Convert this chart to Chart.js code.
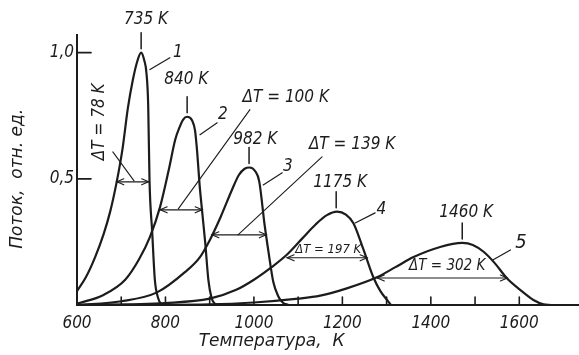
<!DOCTYPE html>
<html lang="ru">
<head>
<meta charset="utf-8">
<title>Поток — температура</title>
<script src="https://cdn.jsdelivr.net/npm/chart.js@4.4.1/dist/chart.umd.min.js"></script>
<style>
  html, body { margin: 0; padding: 0; background: #fff; }
  #wrap { width: 579px; height: 355px; }
</style>
</head>
<body>
<div id="wrap"><canvas id="chart" width="579" height="355"></canvas></div>
<script>
// Temperature (K) and relative flux, one pair per curve
const tempsCurve1 = [600, 620, 641, 660, 675, 690, 703, 715, 726, 737, 745, 752, 757, 761, 764, 770, 776, 783, 790, 800];
const fluxCurve1  = [0.055, 0.11, 0.19, 0.28, 0.37, 0.49, 0.62, 0.78, 0.89, 0.97, 1.00, 0.97, 0.92, 0.79, 0.49, 0.29, 0.10, 0.03, 0.005, 0];

const tempsCurve2 = [600, 660, 709, 740, 765, 788, 808, 822, 832, 840, 849, 860, 867, 872, 877, 883, 890, 897, 904, 910, 918];
const fluxCurve2  = [0.005, 0.04, 0.10, 0.18, 0.27, 0.39, 0.54, 0.655, 0.705, 0.735, 0.746, 0.732, 0.69, 0.60, 0.48, 0.37, 0.245, 0.10, 0.03, 0.008, 0];

const tempsCurve3 = [600, 700, 781, 844, 878, 901, 925, 950, 966, 979, 990, 1003, 1012, 1024, 1033, 1044, 1055, 1065, 1078];
const fluxCurve3  = [0, 0.015, 0.05, 0.13, 0.19, 0.26, 0.35, 0.455, 0.515, 0.54, 0.545, 0.53, 0.49, 0.32, 0.21, 0.09, 0.035, 0.01, 0];

const tempsCurve4 = [600, 800, 900, 960, 1000, 1040, 1075, 1110, 1140, 1165, 1188, 1208, 1225, 1248, 1270, 1286, 1301, 1310];
const fluxCurve4  = [0, 0.008, 0.025, 0.06, 0.10, 0.15, 0.20, 0.265, 0.32, 0.356, 0.37, 0.358, 0.324, 0.218, 0.11, 0.055, 0.02, 0];

const tempsCurve5 = [600, 900, 1000, 1100, 1150, 1210, 1278, 1320, 1361, 1421, 1471, 1495, 1520, 1545, 1572, 1602, 1632, 1655, 1680, 1735];
const fluxCurve5  = [0, 0.003, 0.01, 0.025, 0.037, 0.066, 0.11, 0.15, 0.19, 0.23, 0.246, 0.238, 0.21, 0.165, 0.106, 0.06, 0.02, 0.003, 0, 0];

// axis ticks
const xTickLabels = [600, 800, 1000, 1200, 1400, 1600];
const xTickMarks  = [700, 800, 900, 1000, 1100, 1200, 1300, 1400, 1500, 1600];
const yTickLabels = [0.5, 1.0];

// peak maxima: printed label, temperature and flux at the drawn top
const peakLabels = ['735 K', '840 K', '982 K', '1175 K', '1460 K'];
const peakTemps  = [745, 849, 989, 1186, 1471];
const peakFlux   = [1.0, 0.746, 0.545, 0.37, 0.246];

// half-width arrows: ΔT text, start / end temperature, flux level
const widthLabels = ['ΔT = 78 K', 'ΔT = 100 K', 'ΔT = 139 K', 'ΔT = 197 K', 'ΔT = 302 K'];
const widthFrom   = [690, 788, 905, 1075, 1279];
const widthTo     = [762, 883, 1028, 1256, 1573];
const widthLevel  = [0.488, 0.377, 0.278, 0.187, 0.107];

const curveNames = ['1', '2', '3', '4', '5'];

const INK = '#1c1c1c';
const NARROW = '"DejaVu Sans Condensed", "Liberation Sans Narrow", "DejaVu Sans", sans-serif';
const WIDE = '"DejaVu Sans", sans-serif';

function pts(ts, fs) {
  return ts.map((t, i) => ({ x: t, y: fs[i] }));
}

const curves = [
  pts(tempsCurve1, fluxCurve1),
  pts(tempsCurve2, fluxCurve2),
  pts(tempsCurve3, fluxCurve3),
  pts(tempsCurve4, fluxCurve4),
  pts(tempsCurve5, fluxCurve5)
];

// Text placement in data units (T, flux) so it follows the scales
const peakTextAt   = [[756, 1.13], [847, 0.893], [1003, 0.655], [1195, 0.484], [1480, 0.365]];
const nameAt       = [[828, 1.0], [930, 0.754], [1077, 0.548], [1288, 0.377], [1604, 0.246]];
const nameLeader   = [[765, 0.933, 810, 0.98], [878, 0.675, 917, 0.722], [1021, 0.476, 1064, 0.524],
                      [1229, 0.325, 1274, 0.365], [1541, 0.179, 1580, 0.218]];
const widthTextAt  = [[652, 0.726], [1072, 0.821], [1222, 0.635], [1168, 0.218], [1437, 0.155]];
const widthLeader  = [[681, 0.607, 729, 0.492], [991, 0.774, 829, 0.381], [1154, 0.587, 964, 0.278]];
const widthSizes   = [17, 17, 17, 13, 15];

function line(ctx, x1, y1, x2, y2) {
  ctx.beginPath();
  ctx.moveTo(x1, y1);
  ctx.lineTo(x2, y2);
  ctx.stroke();
}

function arrow(ctx, x1, x2, yy) {
  line(ctx, x1, yy, x2, yy);
  ctx.beginPath();
  ctx.moveTo(x1 + 7, yy - 3); ctx.lineTo(x1, yy); ctx.lineTo(x1 + 7, yy + 3);
  ctx.moveTo(x2 - 7, yy - 3); ctx.lineTo(x2, yy); ctx.lineTo(x2 - 7, yy + 3);
  ctx.stroke();
}

const annotate = {
  id: 'annotate',
  afterDatasetsDraw(chart) {
    const { ctx, chartArea, scales: { x, y } } = chart;
    const px = t => x.getPixelForValue(t);
    const py = v => y.getPixelForValue(v);
    ctx.save();
    ctx.strokeStyle = INK;
    ctx.fillStyle = INK;
    ctx.lineCap = 'round';

    // inward tick marks
    ctx.lineWidth = 1.6;
    xTickMarks.forEach(t => line(ctx, px(t), chartArea.bottom, px(t), chartArea.bottom - 8));
    yTickLabels.forEach(v => line(ctx, chartArea.left, py(v), chartArea.left + 14, py(v)));

    ctx.textAlign = 'center';
    ctx.textBaseline = 'middle';

    // peak markers
    ctx.lineWidth = 1.5;
    ctx.font = 'italic 17px ' + NARROW;
    peakTemps.forEach((t, i) => {
      const top = py(peakFlux[i]);
      line(ctx, px(t), top - 4, px(t), top - 20);
      ctx.fillText(peakLabels[i], px(peakTextAt[i][0]), py(peakTextAt[i][1]));
    });

    // curve numbers with leaders
    ctx.lineWidth = 1.2;
    curveNames.forEach((n, i) => {
      const l = nameLeader[i];
      line(ctx, px(l[0]), py(l[1]), px(l[2]), py(l[3]));
      ctx.font = 'italic ' + (i === 4 ? 20 : 17) + 'px ' + NARROW;
      ctx.fillText(n, px(nameAt[i][0]), py(nameAt[i][1]));
    });

    // half-width arrows
    ctx.lineWidth = 1.1;
    widthFrom.forEach((t, i) => arrow(ctx, px(t), px(widthTo[i]), py(widthLevel[i])));
    widthLeader.forEach(l => line(ctx, px(l[0]), py(l[1]), px(l[2]), py(l[3])));

    widthLabels.forEach((txt, i) => {
      ctx.font = 'italic ' + widthSizes[i] + 'px ' + NARROW;
      const cx = px(widthTextAt[i][0]);
      const cy = py(widthTextAt[i][1]);
      if (i === 0) {
        ctx.save();
        ctx.translate(cx, cy);
        ctx.rotate(-Math.PI / 2);
        ctx.fillText(txt, 0, 0);
        ctx.restore();
      } else {
        ctx.fillText(txt, cx, cy);
      }
    });

    // axis titles
    ctx.font = 'italic 17px ' + WIDE;
    ctx.fillText('Температура,  К', px(1040), chartArea.bottom + 37);
    ctx.save();
    ctx.translate(18, py(0.5));
    ctx.rotate(-Math.PI / 2);
    ctx.fillText('Поток,  отн. ед.', 0, 0);
    ctx.restore();

    ctx.restore();
  }
};

new Chart(document.getElementById('chart').getContext('2d'), {
  type: 'line',
  data: {
    datasets: curves.map((c, i) => ({
      label: curveNames[i],
      data: c,
      borderColor: INK,
      borderWidth: 2.2,
      pointRadius: 0,
      fill: false,
      cubicInterpolationMode: 'monotone'
    }))
  },
  options: {
    responsive: false,
    animation: false,
    devicePixelRatio: 1,
    layout: { padding: { top: 35, right: 0, bottom: 0, left: 0 } },
    plugins: {
      legend: { display: false },
      tooltip: { enabled: false },
      title: { display: false }
    },
    scales: {
      x: {
        type: 'linear',
        min: 600,
        max: 1735,
        afterFit: s => { s.height = 50; },
        afterBuildTicks: s => { s.ticks = xTickLabels.map(v => ({ value: v })); },
        grid: { display: false, drawTicks: false },
        border: { display: true, color: INK, width: 2 },
        ticks: {
          padding: 8,
          color: INK,
          maxRotation: 0,
          autoSkip: false,
          font: { family: NARROW, size: 17, style: 'italic' },
          callback: v => String(v)
        }
      },
      y: {
        min: 0,
        max: 1.07,
        afterFit: s => { s.width = 77; },
        afterBuildTicks: s => { s.ticks = yTickLabels.map(v => ({ value: v })); },
        grid: { display: false, drawTicks: false },
        border: { display: true, color: INK, width: 2 },
        ticks: {
          padding: 3,
          color: INK,
          font: { family: NARROW, size: 17, style: 'italic' },
          callback: v => v.toFixed(1).replace('.', ',')
        }
      }
    }
  },
  plugins: [annotate]
});
</script>
</body>
</html>
